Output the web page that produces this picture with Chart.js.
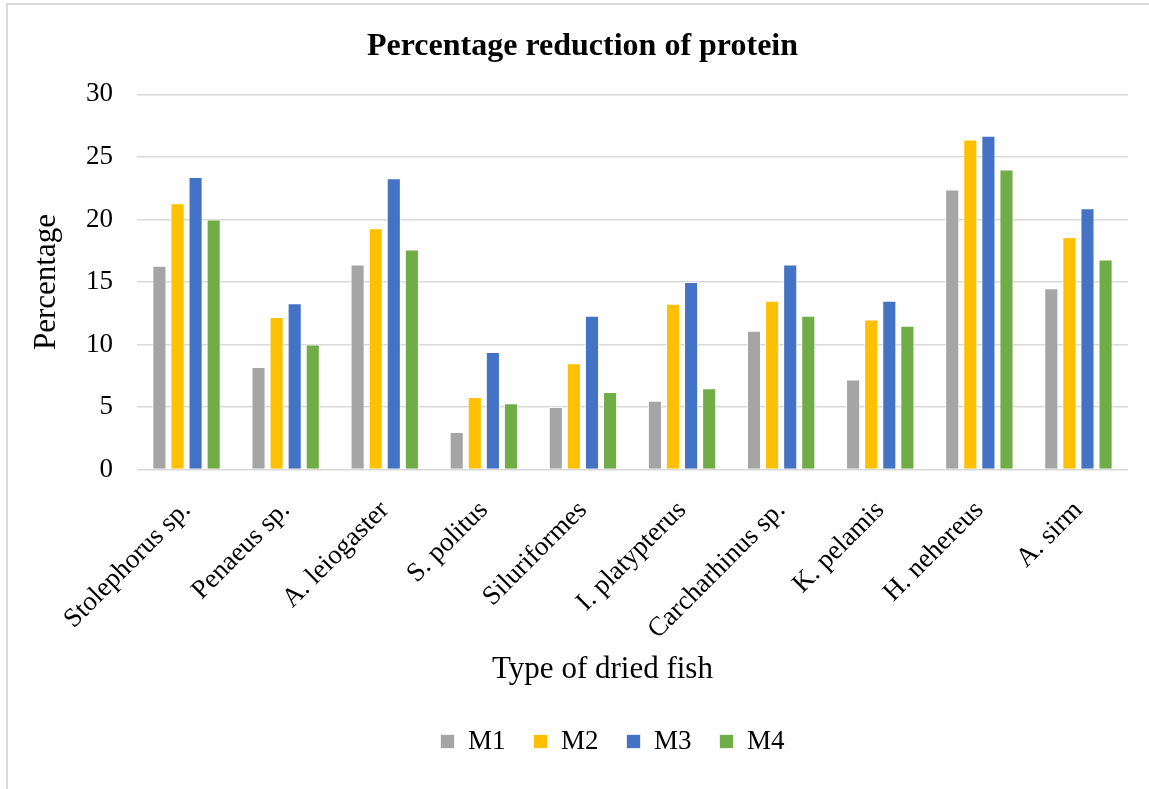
<!DOCTYPE html>
<html>
<head>
<meta charset="utf-8">
<script src="https://cdn.jsdelivr.net/npm/chart.js@4.4.0/dist/chart.umd.min.js"></script>
<style>
  html, body { margin: 0; padding: 0; background: #fff; overflow: hidden; }
  .frame { position: absolute; left: 6px; top: 3px; width: 1170px; height: 800px; border: 2px solid #d9d9d9; }
  .wrap { position: absolute; left: 0; top: 0; width: 1149px; height: 789px; }
</style>
</head>
<body>
<div class="frame"></div>
<div class="wrap"><canvas id="chart"></canvas></div>
<script>
// Fish types (x categories)
const fishTypes = ['Stolephorus sp.', 'Penaeus sp.', 'A. leiogaster', 'S. politus', 'Siluriformes',
  'I. platypterus', 'Carcharhinus sp.', 'K. pelamis', 'H. nehereus', 'A. sirm'];

// Percentage reduction per method
const m1 = [16.3, 8.2, 16.4, 3.0, 5.0, 5.5, 11.1, 7.2, 22.4, 14.5];
const m2 = [21.3, 12.2, 19.3, 5.8, 8.5, 13.25, 13.5, 12.0, 26.4, 18.6];
const m3 = [23.4, 13.3, 23.3, 9.4, 12.3, 15.0, 16.4, 13.5, 26.7, 20.9];
const m4 = [20.0, 10.0, 17.6, 5.3, 6.2, 6.5, 12.3, 11.5, 24.0, 16.8];

const yTicks = [0, 5, 10, 15, 20, 25, 30];
const xTitle = 'Type of dried fish';

const FONT = '"Liberation Serif", "Times New Roman", serif';
const colors = ['#A5A5A5', '#FFC000', '#4472C4', '#70AD47'];

function makeSet(label, data, i) {
  return {
    label: label,
    data: data,
    backgroundColor: colors[i],
    borderColor: 'rgba(255,255,255,0.7)',
    borderWidth: 1,
    categoryPercentage: 0.73,
    barPercentage: 0.78
  };
}

// the original title, legend and x title sit a bit off centre, nudge them
const nudge = {
  id: 'nudge',
  afterLayout(chart) {
    chart.legend.left += 46;
    chart.legend.right += 46;
    chart.titleBlock.left += 16;
    chart.titleBlock.right += 16;
  },
  afterDraw(chart) {
    const x = chart.scales.x;
    const ctx = chart.ctx;
    ctx.save();
    ctx.font = '31px ' + FONT;
    ctx.fillStyle = '#000';
    ctx.textAlign = 'center';
    ctx.textBaseline = 'middle';
    ctx.fillText(xTitle, (chart.chartArea.left + chart.chartArea.right) / 2 - 30, x.bottom - 30.6);
    ctx.restore();
  }
};

new Chart(document.getElementById('chart'), {
  type: 'bar',
  data: {
    labels: fishTypes,
    datasets: [
      makeSet('M1', m1, 0),
      makeSet('M2', m2, 1),
      makeSet('M3', m3, 2),
      makeSet('M4', m4, 3)
    ]
  },
  plugins: [nudge],
  options: {
    responsive: true,
    maintainAspectRatio: false,
    animation: false,
    layout: { padding: { left: 5, right: 21, top: 0, bottom: 24 } },
    plugins: {
      title: {
        display: true,
        text: 'Percentage reduction of protein',
        color: '#000',
        font: { family: FONT, size: 32, weight: 'bold' },
        padding: { top: 28, bottom: 28 }
      },
      legend: {
        position: 'bottom',
        labels: {
          color: '#000',
          font: { family: FONT, size: 27 },
          boxWidth: 14,
          boxHeight: 14,
          padding: 28
        }
      },
      tooltip: { enabled: false }
    },
    scales: {
      x: {
        grid: { display: false },
        border: { display: false },
        // rotated labels may hang past the plot's left edge, like the original
        afterFit: scale => { scale.paddingLeft = 0; scale.paddingRight = 0; },
        ticks: {
          color: '#000',
          font: { family: FONT, size: 27 },
          maxRotation: 45,
          minRotation: 45,
          autoSkip: false,
          padding: 17
        },
        title: {
          // space kept here, text drawn by the nudge plugin
          display: true,
          text: xTitle,
          color: 'rgba(0,0,0,0)',
          font: { family: FONT, size: 31 },
          padding: { top: 0, bottom: 0 }
        }
      },
      y: {
        min: 0,
        max: 30,
        // chart.js counts tick padding twice for width, fix it to the original
        afterFit: scale => { scale.width = 132; },
        afterBuildTicks: axis => { axis.ticks = yTicks.map(v => ({ value: v })); },
        grid: { color: '#d9d9d9', lineWidth: 1.5, drawTicks: false },
        border: { display: false },
        ticks: {
          color: '#000',
          font: { family: FONT, size: 27 },
          padding: 24
        },
        title: {
          display: true,
          text: 'Percentage',
          color: '#000',
          font: { family: FONT, size: 31 },
          padding: { top: 23, bottom: 20 }
        }
      }
    }
  }
});
</script>
</body>
</html>
